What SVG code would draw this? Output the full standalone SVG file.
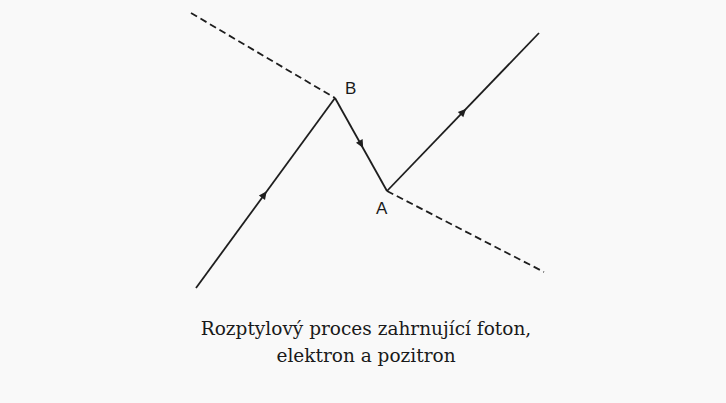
<svg xmlns="http://www.w3.org/2000/svg" width="726" height="403" viewBox="0 0 726 403">
  <style>
    .ln { stroke: #1e1e1e; stroke-width: 1.8; fill: none; stroke-linecap: butt; }
    .ph { stroke: #1e1e1e; stroke-width: 1.8; fill: none; stroke-dasharray: 7 4; }
    .lbl { font-family: "Liberation Sans", Arial, sans-serif; font-size: 17px; fill: #1a1a1a; }
    .cap { font-family: "DejaVu Serif", "Liberation Serif", serif; font-size: 18.5px; fill: #1a1a1a; text-anchor: middle; }
    .arr { fill: #1e1e1e; }
  </style>
  <defs>
    <path id="tri" d="M4.5,0 L-3.5,-3.8 L-3.5,3.8 Z"/>
  </defs>
  <rect width="726" height="403" fill="#f9f9f9"/>
  <g id="connectors">
    <line class="ph" x1="191" y1="13" x2="335" y2="98"/>
    <line class="ln" x1="196" y1="288" x2="335" y2="98"/>
    <line class="ln" x1="335" y1="98" x2="387" y2="191"/>
    <line class="ln" x1="387" y1="191" x2="539" y2="33"/>
    <line class="ph" x1="387" y1="191" x2="544" y2="272"/>
    <use href="#tri" class="arr" transform="translate(264,195) rotate(-53.8)"/>
    <use href="#tri" class="arr" transform="translate(361,144) rotate(60.8)"/>
    <use href="#tri" class="arr" transform="translate(463,112) rotate(-46.1)"/>
  </g>
  <g id="node-B">
    <text class="lbl" x="345" y="94">B</text>
  </g>
  <g id="node-A">
    <text class="lbl" x="376" y="214">A</text>
  </g>
  <g id="caption">
    <text class="cap" x="366" y="335">Rozptylový proces zahrnující foton,</text>
    <text class="cap" x="366" y="362">elektron a pozitron</text>
  </g>
</svg>
